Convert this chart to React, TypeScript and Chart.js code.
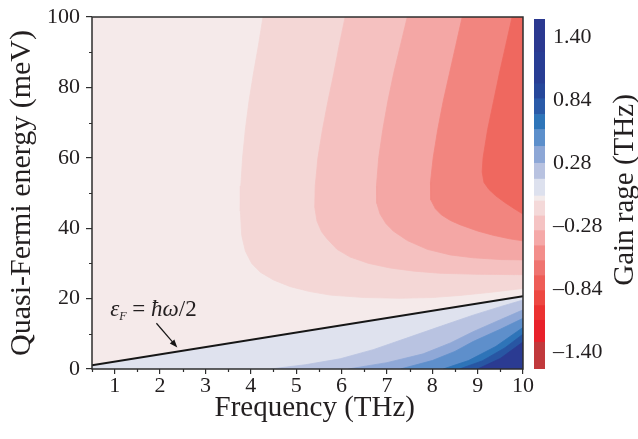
import React, { useEffect, useRef } from 'react';
import { Chart, registerables } from 'chart.js';
Chart.register(...registerables);

const FONT = "'Liberation Serif', 'Times New Roman', serif";
const TEXT = '#231f20';
const FRAME = '#2e2e2e';

// axis ticks
const xTicks = [1, 2, 3, 4, 5, 6, 7, 8, 9, 10];
const yTicks = [0, 20, 40, 60, 80, 100];
const xMinor = [0.5, 1.5, 2.5, 3.5, 4.5, 5.5, 6.5, 7.5, 8.5, 9.5];
const yMinor = [10, 30, 50, 70, 90];

// threshold line eps_F = hbar*omega/2
const lineF = [0.5, 10];
const lineE = [1.03, 20.68];

// gain contours (absorption side, red), frequency (THz) vs energy (meV)
const red1F = [4.27, 4.17, 4.06, 3.96, 3.88, 3.82, 3.78, 3.77, 3.8, 3.88, 4.02, 4.21, 4.5, 4.87, 5.3, 5.75, 6.5, 7.29, 8.0, 8.61, 9.3, 10];
const red1E = [100, 92, 84, 76, 68, 60, 52, 45, 38, 33.5, 30, 27.5, 25.3, 23.4, 22, 21, 20.3, 20.1, 20.3, 20.9, 21.8, 22.9];
const red2F = [6.08, 5.95, 5.83, 5.7, 5.58, 5.48, 5.42, 5.41, 5.46, 5.56, 5.68, 5.9, 6.19, 6.6, 7.07, 7.6, 8.17, 9.0, 10];
const red2E = [100, 92, 84, 76, 68, 60, 52, 46, 42, 39, 37, 34, 31.8, 30, 28.7, 27.8, 27.2, 26.9, 26.8];
const red3F = [7.45, 7.3, 7.15, 7.02, 6.91, 6.82, 6.77, 6.78, 6.85, 6.98, 7.14, 7.45, 7.89, 8.4, 8.9, 9.5, 10];
const red3E = [100, 92, 84, 76, 68, 60, 52, 47, 44, 41.3, 39.2, 36.5, 34, 32.4, 31.6, 31.1, 31.0];
const red4F = [8.66, 8.52, 8.38, 8.24, 8.12, 8.02, 7.96, 7.97, 8.07, 8.2, 8.4, 8.61, 9.0, 9.34, 9.7, 10];
const red4E = [100, 92, 84, 76, 68, 60, 53, 48, 45.5, 43.8, 42.2, 41, 39.2, 38, 37, 36.4];
const red5F = [9.76, 9.62, 9.48, 9.35, 9.22, 9.12, 9.1, 9.14, 9.25, 9.4, 9.6, 9.8, 10];
const red5E = [100, 92, 84, 76, 68, 60, 56, 53, 51, 49.2, 47.3, 45.6, 44];

// gain contours (gain side, blue)
const blue1F = [4.43, 5.2, 5.97, 6.7, 7.44, 8.2, 8.9, 9.5, 10];
const blue1E = [0, 1.2, 2.9, 5.5, 8.8, 12.2, 15.3, 17.7, 19.6];
const blue2F = [6.15, 7.0, 7.8, 8.4, 8.9, 9.5, 10];
const blue2E = [0, 1.8, 4.3, 7.4, 10.6, 14.0, 16.8];
const blue3F = [7.3, 8.0, 8.5, 8.9, 9.5, 10];
const blue3E = [0, 2.4, 5.0, 7.8, 11.3, 14.4];
const blue4F = [8.24, 8.8, 9.4, 10];
const blue4E = [0, 2.4, 6.4, 11.8];
const blue5F = [8.6, 9.1, 9.6, 10];
const blue5E = [0, 2.3, 6.0, 9.9];
const blue6F = [9.0, 9.5, 10];
const blue6E = [0, 3.0, 7.7];

const bgColor = '#F5EAEA';
const lavender = '#DFE2EE';
const redColors = ['#F4D7D6', '#F5C1C0', '#F4A7A5', '#F2857F', '#EF685F'];
const blueColors = ['#B9C3E1', '#8FA8D7', '#5E8FCB', '#2E74B8', '#2856A3', '#2B3B92'];

// colour bar
const cbEdges = [-1.55, -1.312, -1.117, -0.985, -0.852, -0.72, -0.587, -0.455, -0.32, -0.19, -0.057, -0.013, 0.137, 0.278, 0.428, 0.578, 0.711, 0.852, 0.985, 1.267, 1.56];
const cbColors = ['#C1393C', '#E8212B', '#EB3231', '#ED4842', '#EE5D57', '#EF7470', '#F38E8B', '#F5A9A8', '#F5C3C3', '#F4D9D9', '#F3EBEB', '#DDE1EE', '#B8C2E0', '#8DA7D6', '#5C8FCB', '#2E75B9', '#2A5AA8', '#26479A', '#283D94', '#2B3990'];
const cbTicks = [-1.4, -0.84, -0.28, 0.28, 0.84, 1.4];

// annotation
const annoF = 0.9;
const annoE = 15.0;
const arrowF = [1.92, 2.38];
const arrowE = [13.0, 6.1];

const zip = (F: number[], E: number[]) => F.map((f, i) => ({ x: f, y: E[i] }));
function redPoly(F: number[], E: number[]) {
  const p = zip(F, E);
  const last = p[p.length - 1];
  return [{ x: p[0].x, y: 106 }, ...p, { x: 10.6, y: last.y }, { x: 10.6, y: 106 }];
}
function bluePoly(F: number[], E: number[]) {
  const p = zip(F, E);
  const last = p[p.length - 1];
  return [{ x: p[0].x, y: -6 }, ...p, { x: 10.6, y: last.y }, { x: 10.6, y: -6 }];
}

function region(data: any[], color: string) {
  return {
    type: 'line',
    data,
    fill: 'shape',
    backgroundColor: color,
    borderColor: color,
    borderWidth: 0.8,
    pointRadius: 0,
    tension: 0,
    clip: 0,
  };
}

export default function App() {
  const mainRef = useRef<HTMLCanvasElement>(null);
  const cbRef = useRef<HTMLCanvasElement>(null);

  useEffect(() => {
    const slope = (lineE[1] - lineE[0]) / (lineF[1] - lineF[0]);
    const lavPoly = [
      { x: lineF[0] - 0.2, y: lineE[0] - 0.2 * slope },
      { x: lineF[1] + 0.6, y: lineE[1] + 0.6 * slope },
      { x: 10.6, y: -6 },
      { x: lineF[0] - 0.2, y: -6 },
    ];
    const layers: any[] = [
      region(lavPoly, lavender),
      region(bluePoly(blue1F, blue1E), blueColors[0]),
      region(bluePoly(blue2F, blue2E), blueColors[1]),
      region(bluePoly(blue3F, blue3E), blueColors[2]),
      region(bluePoly(blue4F, blue4E), blueColors[3]),
      region(bluePoly(blue5F, blue5E), blueColors[4]),
      region(bluePoly(blue6F, blue6E), blueColors[5]),
      region(redPoly(red1F, red1E), redColors[0]),
      region(redPoly(red2F, red2E), redColors[1]),
      region(redPoly(red3F, red3E), redColors[2]),
      region(redPoly(red4F, red4E), redColors[3]),
      region(redPoly(red5F, red5E), redColors[4]),
      {
        type: 'line',
        data: zip(lineF, lineE),
        borderColor: '#161616',
        borderWidth: 2,
        pointRadius: 0,
        fill: false,
        clip: 0,
      },
    ];
    const N = layers.length;
    layers.forEach((d, i) => (d.order = N - i));

    const bgPlugin = {
      id: 'bg',
      beforeDatasetsDraw(chart: any) {
        const { ctx, chartArea: a } = chart;
        ctx.save();
        ctx.fillStyle = bgColor;
        ctx.fillRect(a.left, a.top, a.right - a.left, a.bottom - a.top);
        ctx.restore();
      },
    };

    const decor = {
      id: 'decor',
      afterDraw(chart: any) {
        const { ctx, chartArea: a } = chart;
        const xs = chart.scales.x;
        const ys = chart.scales.y;
        ctx.save();
        // frame
        ctx.strokeStyle = FRAME;
        ctx.lineWidth = 1.5;
        ctx.strokeRect(a.left, a.top, a.right - a.left, a.bottom - a.top);
        // minor ticks
        ctx.lineWidth = 1.2;
        ctx.beginPath();
        xMinor.forEach((v) => {
          const px = Math.round(xs.getPixelForValue(v)) + 0.5;
          ctx.moveTo(px, a.bottom);
          ctx.lineTo(px, a.bottom + 3);
        });
        yMinor.forEach((v) => {
          const py = Math.round(ys.getPixelForValue(v)) + 0.5;
          ctx.moveTo(a.left - 3, py);
          ctx.lineTo(a.left, py);
        });
        ctx.stroke();

        // annotation text
        let x = xs.getPixelForValue(annoF);
        const y = ys.getPixelForValue(annoE);
        ctx.fillStyle = TEXT;
        ctx.textBaseline = 'alphabetic';
        ctx.textAlign = 'left';
        const seg = (t: string, font: string, dy = 0) => {
          ctx.font = font;
          ctx.fillText(t, x, y + dy);
          x += ctx.measureText(t).width;
        };
        seg('\u03B5', `italic 23px ${FONT}`);
        seg('F', `italic 12px ${FONT}`, 4);
        seg(' = ', `23px ${FONT}`);
        seg('\u0127\u03C9', `italic 23px ${FONT}`);
        seg('/2', `23px ${FONT}`);

        // arrow
        const x1 = xs.getPixelForValue(arrowF[0]);
        const y1 = ys.getPixelForValue(arrowE[0]);
        const x2 = xs.getPixelForValue(arrowF[1]);
        const y2 = ys.getPixelForValue(arrowE[1]);
        const ang = Math.atan2(y2 - y1, x2 - x1);
        const hl = 8;
        const hw = 3;
        ctx.strokeStyle = '#161616';
        ctx.lineWidth = 1.2;
        ctx.beginPath();
        ctx.moveTo(x1, y1);
        ctx.lineTo(x2 - hl * 0.8 * Math.cos(ang), y2 - hl * 0.8 * Math.sin(ang));
        ctx.stroke();
        ctx.fillStyle = '#161616';
        ctx.beginPath();
        ctx.moveTo(x2, y2);
        ctx.lineTo(x2 - hl * Math.cos(ang) + hw * Math.sin(ang), y2 - hl * Math.sin(ang) - hw * Math.cos(ang));
        ctx.lineTo(x2 - hl * Math.cos(ang) - hw * Math.sin(ang), y2 - hl * Math.sin(ang) + hw * Math.cos(ang));
        ctx.closePath();
        ctx.fill();
        ctx.restore();
      },
    };

    const tickFont = { family: FONT, size: 22, lineHeight: 1 };

    const main = new Chart(mainRef.current as HTMLCanvasElement, {
      type: 'line',
      data: { datasets: layers },
      options: {
        animation: false,
        responsive: false,
        events: [],
        layout: { padding: { left: 0, top: 13, right: 115, bottom: 0 } },
        plugins: { legend: { display: false }, tooltip: { enabled: false } },
        scales: {
          x: {
            type: 'linear',
            min: 0.5,
            max: 10,
            afterBuildTicks: (s: any) => {
              s.ticks = xTicks.map((v) => ({ value: v }));
            },
            afterFit: (s: any) => {
              s.height = 70;
            },
            ticks: { font: tickFont, color: TEXT, padding: 1, maxRotation: 0, autoSkip: false },
            grid: { drawOnChartArea: false, tickLength: 5, color: FRAME, lineWidth: 1.2 },
            border: { display: false },
            title: {
              display: true,
              text: '\u00A0\u00A0Frequency (THz)',
              font: { family: FONT, size: 29 },
              color: TEXT,
              padding: { top: 0, bottom: 13 },
            },
          },
          y: {
            type: 'linear',
            min: 0,
            max: 100,
            afterBuildTicks: (s: any) => {
              s.ticks = yTicks.map((v) => ({ value: v }));
            },
            afterFit: (s: any) => {
              s.width = 92;
            },
            ticks: { font: tickFont, color: TEXT, padding: 6, autoSkip: false },
            grid: { drawOnChartArea: false, tickLength: 6, color: FRAME, lineWidth: 1.2 },
            border: { display: false },
            title: {
              display: true,
              text: 'Quasi-Fermi energy (meV)',
              font: { family: FONT, size: 30 },
              color: TEXT,
              padding: { top: 4, bottom: 0 },
            },
          },
        },
      } as any,
      plugins: [bgPlugin, decor],
    } as any);

    const cbTitle = {
      id: 'cbTitle',
      afterDraw(chart: any) {
        const { ctx } = chart;
        ctx.save();
        ctx.translate(105, 190);
        ctx.rotate(-Math.PI / 2);
        ctx.font = `29px ${FONT}`;
        ctx.fillStyle = TEXT;
        ctx.textAlign = 'center';
        ctx.textBaseline = 'middle';
        ctx.fillText('Gain rage (THz)', 0, 0);
        ctx.restore();
      },
    };

    const cb = new Chart(cbRef.current as HTMLCanvasElement, {
      type: 'bar',
      data: {
        labels: [''],
        datasets: cbColors.map((c, i) => ({
          data: [[cbEdges[i], cbEdges[i + 1]]],
          backgroundColor: c,
          borderWidth: 0,
          barPercentage: 1,
          categoryPercentage: 1,
          grouped: false,
        })),
      },
      options: {
        animation: false,
        responsive: false,
        events: [],
        layout: { padding: { left: 14, top: 17, bottom: 70, right: 0 } },
        plugins: { legend: { display: false }, tooltip: { enabled: false } },
        scales: {
          x: { display: false },
          y: {
            position: 'right',
            min: -1.55,
            max: 1.56,
            afterBuildTicks: (s: any) => {
              s.ticks = cbTicks.map((v) => ({ value: v }));
            },
            afterFit: (s: any) => {
              s.width = 93;
            },
            ticks: {
              font: tickFont,
              color: TEXT,
              padding: 8,
              callback: (v: any) => (v < 0 ? '\u2013' + Math.abs(v).toFixed(2) : Number(v).toFixed(2)),
            },
            grid: { display: false, drawTicks: false },
            border: { display: false },
          },
        },
      } as any,
      plugins: [cbTitle],
    } as any);

    return () => {
      main.destroy();
      cb.destroy();
    };
  }, []);

  return (
    <div style={{ position: 'absolute', left: 0, top: 0, width: 638, height: 439, background: '#fff' }}>
      <canvas ref={mainRef} width={638} height={439} style={{ position: 'absolute', left: 0, top: 0 }} />
      <canvas ref={cbRef} width={118} height={439} style={{ position: 'absolute', left: 520, top: 0 }} />
    </div>
  );
}
